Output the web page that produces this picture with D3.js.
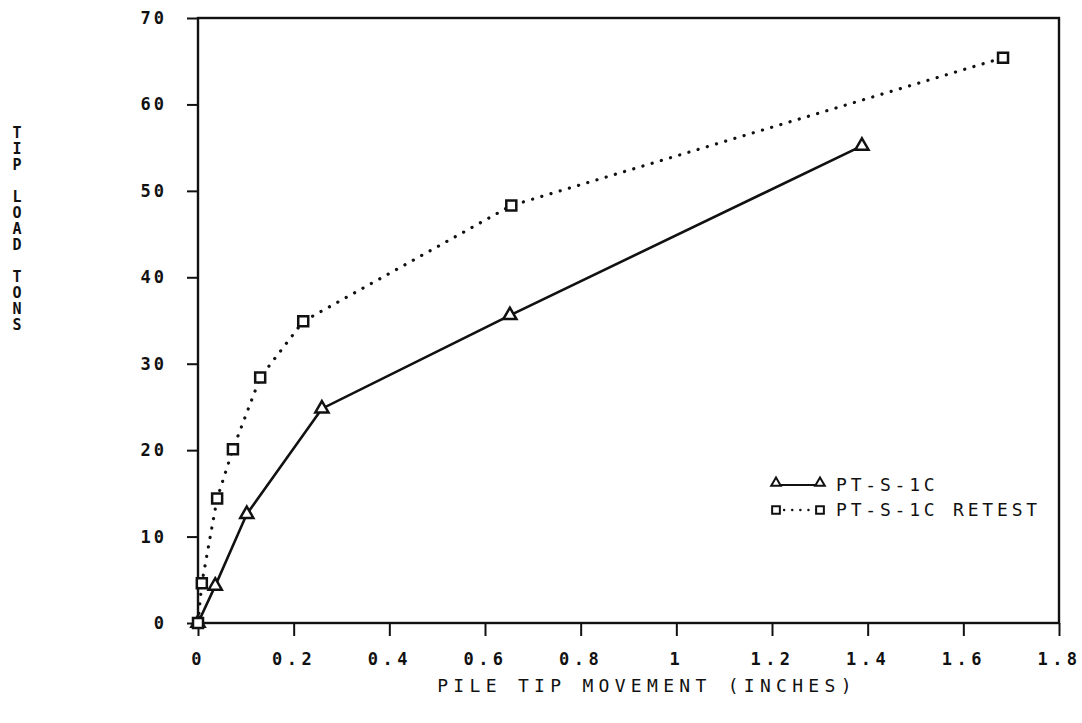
<!DOCTYPE html>
<html>
<head>
<meta charset="utf-8">
<script src="https://cdn.jsdelivr.net/npm/d3@7"></script>
<style>
  html, body { margin: 0; padding: 0; background: #fff; }
  svg { display: block; }
  text { font-family: "DejaVu Sans Mono", "Liberation Mono", monospace; fill: #111; }
</style>
</head>
<body>
<svg id="chart" width="1082" height="723"></svg>
<script>
// ---- data ----
const xTickValues = [0, 0.2, 0.4, 0.6, 0.8, 1.0, 1.2, 1.4, 1.6, 1.8];
const xTickLabels = ["0", "0.2", "0.4", "0.6", "0.8", "1", "1.2", "1.4", "1.6", "1.8"];
const yTickValues = [0, 10, 20, 30, 40, 50, 60, 70];
const yTickLabels = ["0", "10", "20", "30", "40", "50", "60", "70"];

const seriesNames = ["PT-S-1C", "PT-S-1C RETEST"];
const ptMovement = [0, 0.036, 0.102, 0.259, 0.652, 1.388];
const ptLoad     = [0, 4.3, 12.6, 24.8, 35.6, 55.2];
const retestMovement = [0, 0.008, 0.040, 0.073, 0.130, 0.220, 0.655, 1.683];
const retestLoad     = [0, 4.6, 14.4, 20.1, 28.4, 34.9, 48.3, 65.4];

const xTitle = "PILE TIP MOVEMENT (INCHES)";
const yTitleWords = ["TIP", "LOAD", "TONS"];

// ---- layout ----
const svg = d3.select("#chart");
const mLeft = 198, mRight = 1059, mTop = 18, mBottom = 623;

const x = d3.scaleLinear().domain([0, 1.8]).range([mLeft, mRight]);
const y = d3.scaleLinear().domain([0, 70]).range([mBottom, mTop]);

const ink = "#111";

// frame
svg.append("rect")
  .attr("x", mLeft).attr("y", mTop)
  .attr("width", mRight - mLeft).attr("height", mBottom - mTop)
  .attr("fill", "none").attr("stroke", ink).attr("stroke-width", 2.4);

// x axis
const xAxis = d3.axisBottom(x)
  .tickValues(xTickValues)
  .tickFormat((d, i) => xTickLabels[i])
  .tickSize(13).tickPadding(17);
const gx = svg.append("g").attr("transform", `translate(0,${mBottom})`).call(xAxis);
gx.select(".domain").remove();
gx.selectAll("line").attr("stroke", ink).attr("stroke-width", 2);
gx.selectAll("text")
  .style("font-size", "17px").style("font-weight", "bold")
  .style("letter-spacing", "4.5px");

// y axis
const yAxis = d3.axisLeft(y)
  .tickValues(yTickValues)
  .tickFormat((d, i) => yTickLabels[i])
  .tickSize(11).tickPadding(20);
const gy = svg.append("g").attr("transform", `translate(${mLeft},0)`).call(yAxis);
gy.select(".domain").remove();
gy.selectAll("line").attr("stroke", ink).attr("stroke-width", 2);
gy.selectAll("text")
  .style("font-size", "17px").style("font-weight", "bold")
  .style("letter-spacing", "3px");

// titles
svg.append("text")
  .attr("x", 647).attr("y", 692)
  .attr("text-anchor", "middle")
  .style("font-size", "18px").style("letter-spacing", "5.3px")
  .text(xTitle);

const yt = svg.append("text").style("font-size", "15px").style("font-weight", "bold")
  .attr("text-anchor", "middle");
let ty = 138;
yTitleWords.forEach((w, wi) => {
  w.split("").forEach(ch => {
    yt.append("tspan").attr("x", 17).attr("y", ty).text(ch);
    ty += 16;
  });
  ty += 16;
});

// series
const line = d3.line().x(d => x(d[0])).y(d => y(d[1]));
const ptData = ptMovement.map((v, i) => [v, ptLoad[i]]);
const reData = retestMovement.map((v, i) => [v, retestLoad[i]]);

svg.append("path").datum(ptData).attr("d", line)
  .attr("fill", "none").attr("stroke", ink).attr("stroke-width", 2.6);
svg.append("path").datum(reData).attr("d", line)
  .attr("fill", "none").attr("stroke", ink).attr("stroke-width", 3.2)
  .attr("stroke-dasharray", "0.1,9.5").attr("stroke-linecap", "round");

const triSym = d3.symbol().type(d3.symbolTriangle).size(75);
const sqSym = d3.symbol().type(d3.symbolSquare).size(100);

svg.append("g").selectAll("path").data(ptData).join("path")
  .attr("d", triSym)
  .attr("transform", d => `translate(${x(d[0])},${y(d[1])})`)
  .attr("fill", "#fff").attr("stroke", ink).attr("stroke-width", 2.5);
svg.append("g").selectAll("path").data(reData).join("path")
  .attr("d", sqSym)
  .attr("transform", d => `translate(${x(d[0])},${y(d[1])})`)
  .attr("fill", "#fff").attr("stroke", ink).attr("stroke-width", 2.5);

// legend
const lg = svg.append("g");
const lx0 = 776, lx1 = 820, ltx = 836;
const rows = [485, 510];
lg.append("line").attr("x1", lx0).attr("x2", lx1).attr("y1", rows[0]).attr("y2", rows[0])
  .attr("stroke", ink).attr("stroke-width", 2);
[lx0, lx1].forEach(px => lg.append("path").attr("d", d3.symbol().type(d3.symbolTriangle).size(40))
  .attr("transform", `translate(${px},${rows[0] - 2})`)
  .attr("fill", "#fff").attr("stroke", ink).attr("stroke-width", 2));
lg.append("line").attr("x1", lx0).attr("x2", lx1).attr("y1", rows[1]).attr("y2", rows[1])
  .attr("stroke", ink).attr("stroke-width", 2.4)
  .attr("stroke-dasharray", "0.1,8").attr("stroke-linecap", "round");
[lx0, lx1].forEach(px => lg.append("path").attr("d", d3.symbol().type(d3.symbolSquare).size(60))
  .attr("transform", `translate(${px},${rows[1]})`)
  .attr("fill", "#fff").attr("stroke", ink).attr("stroke-width", 2));
seriesNames.forEach((n, i) => {
  lg.append("text").attr("x", ltx).attr("y", rows[i]).attr("dy", "0.36em")
    .style("font-size", "18px").style("letter-spacing", "3.8px")
    .text(n);
});
</script>
</body>
</html>
